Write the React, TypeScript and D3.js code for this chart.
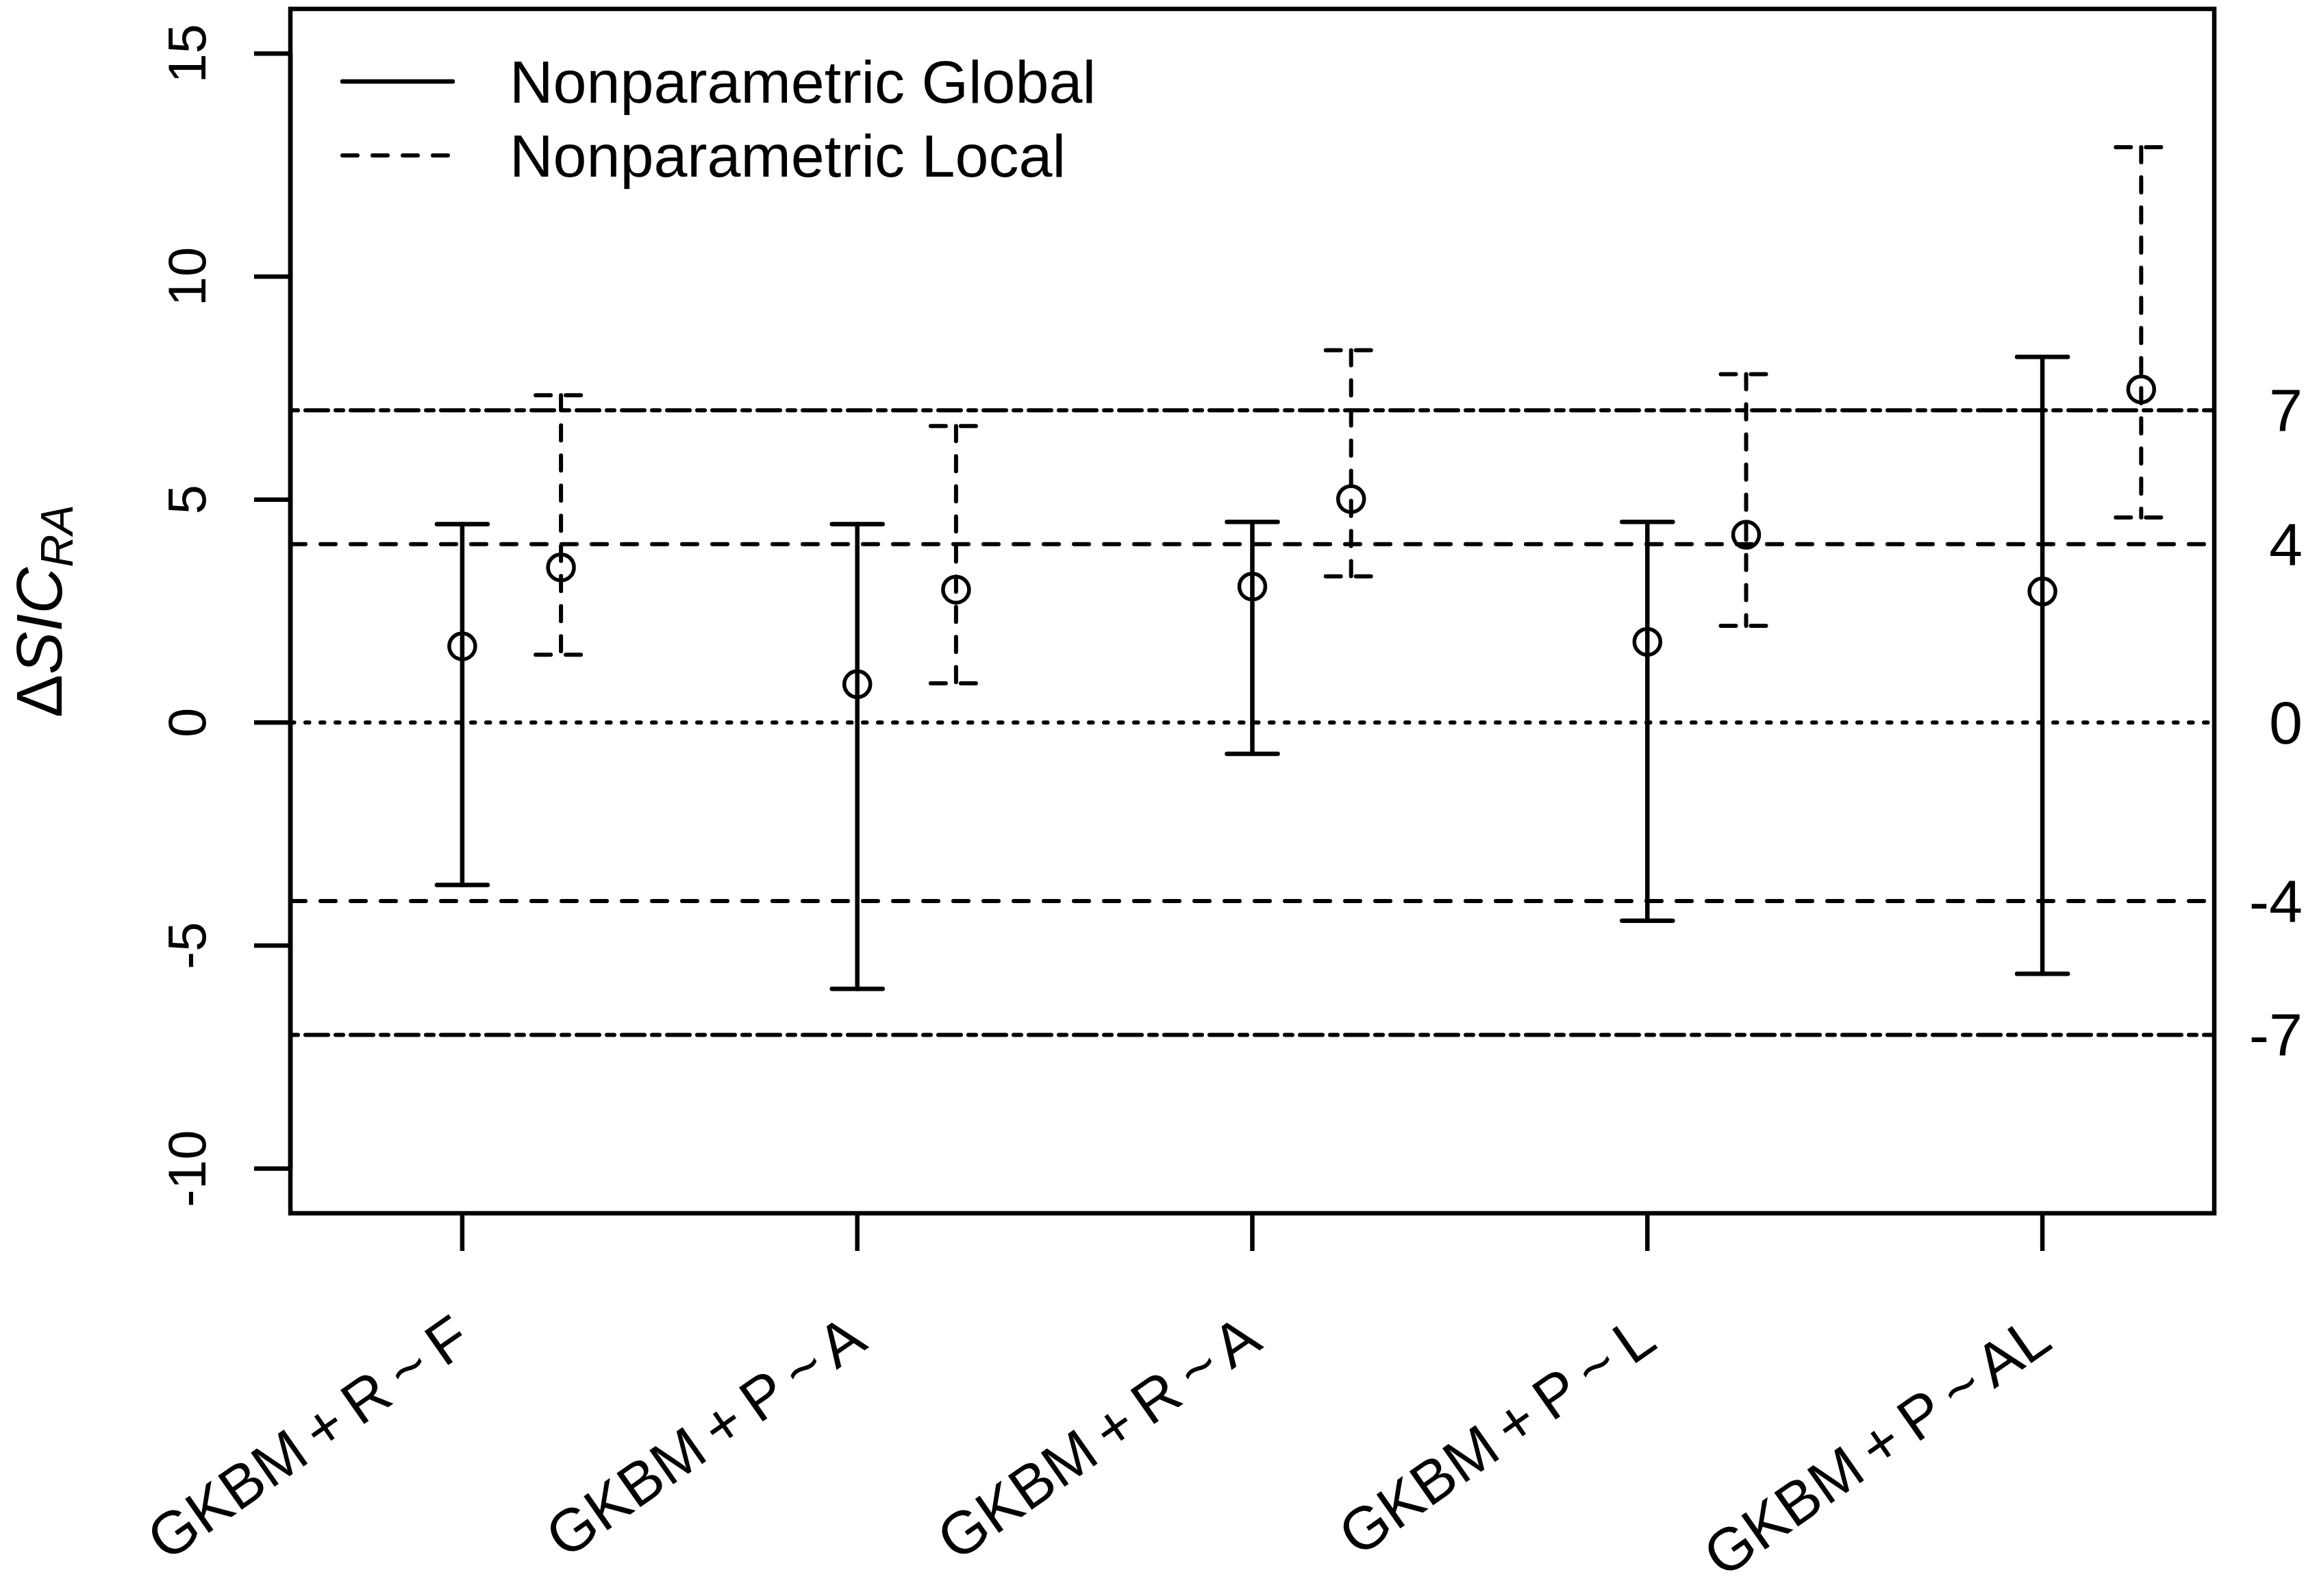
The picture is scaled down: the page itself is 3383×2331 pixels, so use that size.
import React from "react";
import * as d3 from "d3";

// ---- data ----
const categories = ["GKBM + R ~ F", "GKBM + P ~ A", "GKBM + R ~ A", "GKBM + P ~ L", "GKBM + P ~ AL"];
const globalEst = [1.71, 0.86, 3.05, 1.81, 2.94];
const globalLower = [-3.64, -5.97, -0.70, -4.44, -5.63];
const globalUpper = [4.45, 4.45, 4.50, 4.50, 8.20];
const localEst = [3.48, 2.98, 5.01, 4.21, 7.47];
const localLower = [1.52, 0.88, 3.28, 2.17, 4.60];
const localUpper = [7.34, 6.65, 8.35, 7.81, 12.90];
const yTicks = [-10, -5, 0, 5, 10, 15];
const refValues = [7, 4, 0, -4, -7];
const refStyles = ["twodash", "dashed", "dotted", "dashed", "twodash"];
const legendLabels = ["Nonparametric Global", "Nonparametric Local"];

const W = 3383;
const H = 2331;
const FONT = "'Liberation Sans', Arial, Helvetica, sans-serif";
const U = 5.5; // dash unit (R lwd unit)
const LW = 6.5;

const dashFor = (s: string) => {
  if (s === "dashed") return [4, 4].map((d) => d * U).join(" ");
  if (s === "dotted") return [1, 3].map((d) => d * U).join(" ");
  if (s === "twodash") return [2, 2, 6, 2].map((d) => d * U).join(" ");
  return "none";
};

export default function App() {
  const x = d3.scaleLinear().domain([0.565, 5.435]).range([424, 3233]);
  const y = d3.scaleLinear().domain([-11, 16]).range([1772, 13]);
  const [x0, x1] = x.range();
  const [yb, yt] = y.range();
  const capHalf = 37;
  const r = 19;

  const bars = (
    est: number[],
    lo: number[],
    hi: number[],
    offset: number,
    style: string,
    key: string
  ) =>
    est.map((v, i) => {
      const cx = x(i + 1 + offset);
      const dash = dashFor(style);
      const sw = style === "solid" ? LW : 6;
      return (
        <g key={key + i} stroke="#000" fill="none" strokeWidth={sw} strokeLinecap="round">
          <line x1={cx} x2={cx} y1={y(hi[i])} y2={y(lo[i])} strokeDasharray={dash} />
          <line x1={cx - capHalf} x2={cx + capHalf} y1={y(hi[i])} y2={y(hi[i])} strokeDasharray={dash} />
          <line x1={cx - capHalf} x2={cx + capHalf} y1={y(lo[i])} y2={y(lo[i])} strokeDasharray={dash} />
          <circle cx={cx} cy={y(v)} r={r} strokeWidth={5.5} strokeDasharray="none" />
        </g>
      );
    });

  const legendY = [119, 227];
  const legendStyles = ["solid", "dashed"];

  return (
    <svg
      width={W}
      height={H}
      viewBox={`0 0 ${W} ${H}`}
      style={{ position: "absolute", left: 0, top: 0, background: "#fff", display: "block" }}
      fontFamily={FONT}
    >
      <rect x={0} y={0} width={W} height={H} fill="#fff" />

      {/* reference lines */}
      {refValues.map((v, i) => (
        <line
          key={"ref" + i}
          x1={x0}
          x2={x1}
          y1={y(v)}
          y2={y(v)}
          stroke="#000"
          strokeWidth={6}
          strokeLinecap="round"
          strokeDasharray={dashFor(refStyles[i])}
        />
      ))}

      {/* error bars */}
      {bars(globalEst, globalLower, globalUpper, 0, "solid", "g")}
      {bars(localEst, localLower, localUpper, 0.25, "dashed", "l")}

      {/* plot box */}
      <rect x={x0} y={yt} width={x1 - x0} height={yb - yt} fill="none" stroke="#000" strokeWidth={LW} />

      {/* left y axis */}
      <line x1={x0} x2={x0} y1={y(yTicks[0])} y2={y(yTicks[yTicks.length - 1])} stroke="#000" strokeWidth={LW} />
      {yTicks.map((t) => (
        <g key={"yt" + t}>
          <line x1={x0 - 53} x2={x0} y1={y(t)} y2={y(t)} stroke="#000" strokeWidth={LW} />
          <text
            transform={`translate(300, ${y(t)}) rotate(-90)`}
            textAnchor="middle"
            fontSize={78}
            fill="#000"
          >
            {String(t)}
          </text>
        </g>
      ))}

      {/* y axis title */}
      <text transform={`translate(90, ${(yt + yb) / 2}) rotate(-90)`} textAnchor="middle" fontSize={94} fill="#000">
        <tspan>Δ</tspan>
        <tspan fontStyle="italic">SIC</tspan>
        <tspan fontStyle="italic" fontSize={66} dy={16}>
          RA
        </tspan>
      </text>

      {/* x axis ticks and labels */}
      {categories.map((c, i) => {
        const cx = x(i + 1);
        return (
          <g key={"xt" + i}>
            <line x1={cx} x2={cx} y1={yb} y2={yb + 55} stroke="#000" strokeWidth={LW} />
            <text
              transform={`translate(${cx}, 1942) rotate(-35)`}
              textAnchor="end"
              dy="0.35em"
              fontSize={88}
              fill="#000"
              style={{ wordSpacing: "-7px" }}
            >
              {c}
            </text>
          </g>
        );
      })}

      {/* right-side reference labels */}
      {refValues.map((v) => (
        <text key={"rl" + v} x={3362} y={y(v) + 31} textAnchor="end" fontSize={88} fill="#000">
          {String(v)}
        </text>
      ))}

      {/* legend */}
      {legendLabels.map((lab, i) => (
        <g key={"lg" + i}>
          <line
            x1={500}
            x2={661}
            y1={legendY[i]}
            y2={legendY[i]}
            stroke="#000"
            strokeWidth={legendStyles[i] === "solid" ? LW : 6}
            strokeLinecap="round"
            strokeDasharray={dashFor(legendStyles[i])}
          />
          <text x={744} y={legendY[i] + 31} fontSize={88} fill="#000">
            {lab}
          </text>
        </g>
      ))}
    </svg>
  );
}
